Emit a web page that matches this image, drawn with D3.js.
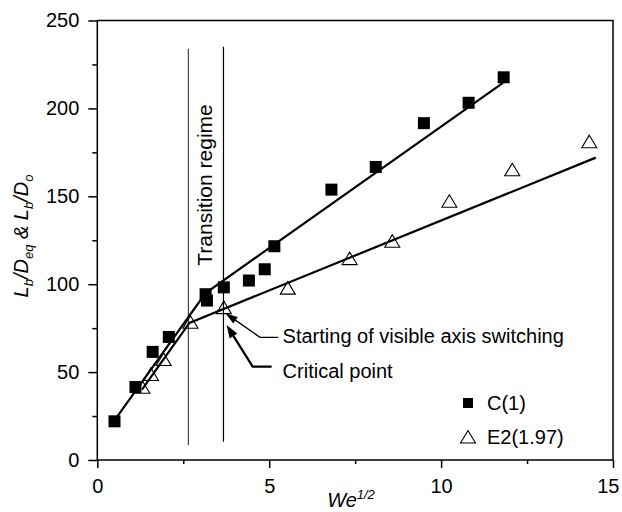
<!DOCTYPE html>
<html><head><meta charset="utf-8">
<script src="https://cdn.jsdelivr.net/npm/d3@7"></script>
<style>
html,body{margin:0;padding:0;background:#fff;}
svg text{font-family:"Liberation Sans",Arial,Helvetica,sans-serif;}
</style>
</head><body>
<svg id="chart" width="622" height="512"></svg>
<script>
// ---- data ----
const seriesNames = ["C(1)", "E2(1.97)"];
const cX = [0.5, 1.11, 1.61, 2.08, 3.15, 3.19, 3.68, 4.41, 4.87, 5.15, 6.81, 8.1, 9.5, 10.8, 11.82];
const cY = [22, 41.5, 61.5, 70, 94.3, 90.7, 98.2, 102.1, 108.5, 121.6, 153.8, 166.7, 191.6, 203.2, 217.7];
const eX = [1.31, 1.56, 1.93, 2.71, 3.68, 5.54, 7.34, 8.58, 10.24, 12.07, 14.31];
const eY = [40.8, 48.1, 56.6, 77.8, 86.1, 97.2, 114, 123.9, 146.6, 164.5, 180.5];
// fitted line segments (break points)
const cFitX = [0.5, 3.15, 11.8];
const cFitY = [22.5, 95, 214.5];
const eFitX = [1.3, 2.68, 14.5];
const eFitY = [40, 78, 172];
// transition regime bounds
const transitionX = [2.65, 3.67];
const transitionYLow = [8.5, 10.4];
const transitionYHigh = [234, 235];
const xTicks = [0, 5, 10, 15];
const xMinor = [2.5, 7.5, 12.5];
const yTicks = [0, 50, 100, 150, 200, 250];
const yMinor = [25, 75, 125, 175, 225];

const svg = d3.select("#chart");
const L = 97.3, R = 613, T = 20.5, B = 460;
const x = d3.scaleLinear().domain([0, 15]).range([L, R]);
const y = d3.scaleLinear().domain([0, 250]).range([B, T]);

// axes
const fs = 20;
const gx = svg.append("g").attr("transform", `translate(0,${B})`)
  .call(d3.axisBottom(x).tickValues(xTicks).tickSize(8).tickPadding(11).tickFormat(d3.format("d")));
const gxm = svg.append("g").attr("transform", `translate(0,${B})`)
  .call(d3.axisBottom(x).tickValues(xMinor).tickSize(4).tickFormat(""));
const gy = svg.append("g").attr("transform", `translate(${L},0)`)
  .call(d3.axisLeft(y).tickValues(yTicks).tickSize(9).tickPadding(9).tickFormat(d3.format("d")));
const gym = svg.append("g").attr("transform", `translate(${L},0)`)
  .call(d3.axisLeft(y).tickValues(yMinor).tickSize(5).tickFormat(""));
[gx, gxm, gy, gym].forEach(g => {
  g.select(".domain").remove();
  g.selectAll("line").attr("stroke", "#000").attr("stroke-width", 1.5);
  g.selectAll("text").attr("font-size", fs).attr("fill", "#000")
    .attr("font-family", '"Liberation Sans",Arial,Helvetica,sans-serif');
});
// keep the last x label inside the picture
gx.selectAll(".tick text").filter(d => d === 15).attr("text-anchor", "end").attr("dx", "6");

// frame
svg.append("rect").attr("x", L).attr("y", T).attr("width", R - L).attr("height", B - T)
  .attr("fill", "none").attr("stroke", "#000").attr("stroke-width", 1.5);

// transition lines
svg.selectAll(".tline").data(transitionX).enter().append("line")
  .attr("x1", d => x(d)).attr("x2", d => x(d))
  .attr("y1", (d, i) => y(transitionYLow[i])).attr("y2", (d, i) => y(transitionYHigh[i]))
  .attr("stroke", (d, i) => i === 0 ? "#444" : "#000").attr("stroke-width", 1.2);

svg.append("text").attr("transform", `translate(${(x(transitionX[0]) + x(transitionX[1])) / 2 + 6},185) rotate(-90)`)
  .attr("text-anchor", "middle").attr("font-size", 21).text("Transition regime");

// fitted lines
const line = d3.line().x(d => x(d[0])).y(d => y(d[1]));
svg.append("path").datum(cFitX.map((v, i) => [v, cFitY[i]])).attr("d", line)
  .attr("fill", "none").attr("stroke", "#000").attr("stroke-width", 2.2);
svg.append("path").datum(eFitX.map((v, i) => [v, eFitY[i]])).attr("d", line)
  .attr("fill", "none").attr("stroke", "#000").attr("stroke-width", 2.2);

// markers
const sq = 12;
svg.selectAll(".sq").data(cX.map((v, i) => [v, cY[i]])).enter().append("rect")
  .attr("x", d => x(d[0]) - sq / 2).attr("y", d => y(d[1]) - sq / 2)
  .attr("width", sq).attr("height", sq).attr("fill", "#000");
const tri = "M0,-7.5L7.5,5L-7.5,5Z";
svg.selectAll(".tri").data(eX.map((v, i) => [v, eY[i]])).enter().append("path")
  .attr("d", tri).attr("transform", d => `translate(${x(d[0])},${y(d[1])})`)
  .attr("fill", "none").attr("stroke", "#000").attr("stroke-width", 1.1);

// annotations (data coordinates)
const annStart = [[5.26, 69.8], [4.73, 69.8], [3.735, 83.4]];
const annCrit = [[5.07, 53.1], [4.52, 53.1], [3.76, 76.8]];
function arrow(pts, w, headLen, headW) {
  const p = pts.map(d => [x(d[0]), y(d[1])]);
  const tip = p[p.length - 1], prev = p[p.length - 2];
  const dx = tip[0] - prev[0], dy = tip[1] - prev[1];
  const len = Math.hypot(dx, dy), ux = dx / len, uy = dy / len;
  const bx = tip[0] - ux * headLen, by = tip[1] - uy * headLen;
  const p2 = p.slice(0, -1).concat([[bx + ux * 2, by + uy * 2]]);
  svg.append("path").attr("d", d3.line()(p2)).attr("fill", "none").attr("stroke", "#000").attr("stroke-width", w);
  svg.append("path").attr("d", `M${tip[0]},${tip[1]}L${bx - uy * headW / 2},${by + ux * headW / 2}L${bx + uy * headW / 2},${by - ux * headW / 2}Z`)
    .attr("fill", "#000");
}
arrow(annStart, 1.3, 12, 8);
arrow(annCrit, 2.2, 13, 9);
svg.append("text").attr("x", x(5.39)).attr("y", y(70.5)).attr("dy", "0.35em").attr("font-size", fs)
  .text("Starting of visible axis switching");
svg.append("text").attr("x", x(5.39)).attr("y", y(50.6)).attr("dy", "0.35em").attr("font-size", fs)
  .text("Critical point");

// legend
svg.append("rect").attr("x", 463).attr("y", 398).attr("width", 10).attr("height", 10).attr("fill", "#000");
svg.append("text").attr("x", 487).attr("y", 403).attr("dy", "0.35em").attr("font-size", fs).text(seriesNames[0]);
svg.append("path").attr("d", tri).attr("transform", "translate(468,438)")
  .attr("fill", "none").attr("stroke", "#000").attr("stroke-width", 1.1);
svg.append("text").attr("x", 487).attr("y", 437).attr("dy", "0.35em").attr("font-size", fs).text(seriesNames[1]);

// x label
const xl = svg.append("text").attr("x", 351).attr("y", 507).attr("text-anchor", "middle")
  .attr("font-size", fs).attr("font-style", "italic");
xl.append("tspan").text("We");
xl.append("tspan").attr("dy", -8).attr("font-size", 13).text("1/2");

// y label
const yl = svg.append("text").attr("transform", "translate(28,236) rotate(-90)")
  .attr("text-anchor", "middle").attr("font-size", fs).attr("font-style", "italic");
yl.append("tspan").text("L");
yl.append("tspan").attr("font-size", 13).attr("dy", 5).text("b");
yl.append("tspan").attr("dy", -5).text("/D");
yl.append("tspan").attr("font-size", 13).attr("dy", 5).text("eq");
yl.append("tspan").attr("dy", -5).text(" & L");
yl.append("tspan").attr("font-size", 13).attr("dy", 5).text("b");
yl.append("tspan").attr("dy", -5).text("/D");
yl.append("tspan").attr("font-size", 13).attr("dy", 5).text("o");
</script>
</body></html>
